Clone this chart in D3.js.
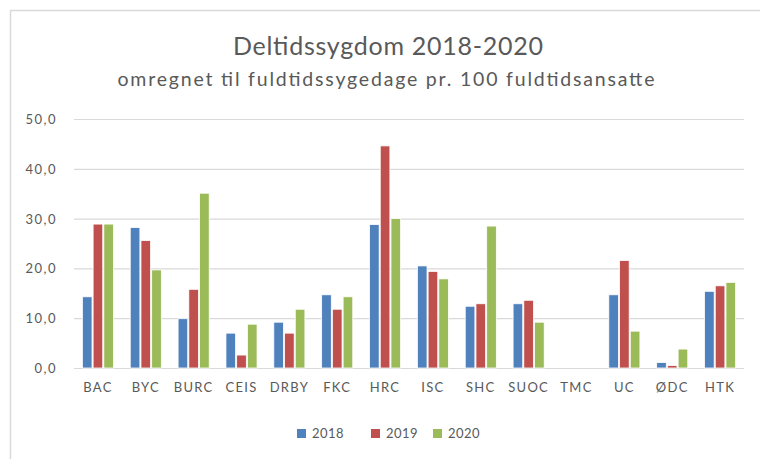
<!DOCTYPE html>
<html><head><meta charset="utf-8">
<script src="https://cdn.jsdelivr.net/npm/d3@7"></script>
<style>body{margin:0;background:#fff}svg{display:block}text{font-family:Lato,"Open Sans",sans-serif;fill:#595959}</style>
</head><body><svg id="c" width="760" height="459"></svg>
<script>
const categories = ["BAC","BYC","BURC","CEIS","DRBY","FKC","HRC","ISC","SHC","SUOC","TMC","UC","ØDC","HTK"];
const series = ["2018","2019","2020"];
const v2018 = [14.3,28.2,9.9,7.0,9.2,14.7,28.8,20.5,12.4,12.9,null,14.7,1.1,15.4];
const v2019 = [28.9,25.6,15.8,2.6,7.0,11.8,44.6,19.4,12.9,13.6,null,21.6,0.5,16.5];
const v2020 = [28.9,19.7,35.1,8.8,11.8,14.3,30.0,17.9,28.5,9.2,null,7.4,3.8,17.2];
const yTicks = [0,10,20,30,40,50];
const colors = ["#4F81BD","#C0504D","#9BBB59"];
const title = "Deltidssygdom 2018-2020";
const subtitle = "omregnet til fuldtidssygedage pr. 100 fuldtidsansatte";

const values = [v2018, v2019, v2020];
const svg = d3.select("#c");
// outer frame
svg.append("path").attr("d","M10.5,459 V10.5 H760").attr("fill","none").attr("stroke","#d9d9d9").attr("stroke-width",1.5);

const L=74, R=744, T=119, B=368;
const x0 = d3.scaleBand().domain(categories).range([L,R]).paddingInner(0.35).paddingOuter(0.175);
const x1 = d3.scaleBand().domain(series).range([0,x0.bandwidth()]).paddingInner(0.1);
const y = d3.scaleLinear().domain([0,50]).range([B,T]);

const fmt = d => d3.format(".1f")(d).replace(".",",");
const yAxis = d3.axisLeft(y).tickValues(yTicks).tickSize(-(R-L)).tickFormat(fmt);
const gy = svg.append("g").attr("transform",`translate(${L},0)`).call(yAxis);
gy.select(".domain").remove();
gy.selectAll(".tick line").attr("stroke","#d9d9d9").attr("stroke-width",1.2);
gy.selectAll(".tick text").attr("x",-17).attr("font-size",13).attr("letter-spacing",1.5).attr("fill","#595959").attr("dy","0.35em");

const xAxis = d3.axisBottom(x0).tickSize(0);
const gx = svg.append("g").attr("transform",`translate(0,${B})`).call(xAxis);
gx.select(".domain").remove();
gx.selectAll(".tick text").attr("y",24).attr("dy",0).attr("font-size",13).attr("letter-spacing",1.3).attr("fill","#595959");

const groups = svg.append("g").selectAll("g").data(categories).join("g")
  .attr("transform",d=>`translate(${x0(d)},0)`);
groups.selectAll("rect").data((c,i)=>series.map((s,j)=>({s,j,v:values[j][i]})).filter(d=>d.v!=null))
  .join("rect")
  .attr("x",d=>x1(d.s)).attr("width",x1.bandwidth())
  .attr("y",d=>y(d.v)).attr("height",d=>B-y(d.v))
  .attr("fill",d=>colors[d.j]).attr("stroke","#fff").attr("stroke-width",0.8);

svg.append("text").attr("x",388).attr("y",55).attr("text-anchor","middle").attr("font-size",25).attr("textLength",310).attr("lengthAdjust","spacing").text(title);
svg.append("text").attr("x",386).attr("y",86).attr("text-anchor","middle").attr("font-size",19.5).attr("textLength",537).attr("lengthAdjust","spacing").text(subtitle);

const legX = [297,371,433];
const leg = svg.append("g").selectAll("g").data(series).join("g").attr("transform",(d,i)=>`translate(${legX[i]},429)`);
leg.append("rect").attr("width",9).attr("height",9).attr("fill",(d,i)=>colors[i]);
leg.append("text").attr("x",15).attr("y",4.5).attr("dy","0.35em").attr("font-size",13).attr("letter-spacing",0.5).text(d=>d);
</script></body></html>
